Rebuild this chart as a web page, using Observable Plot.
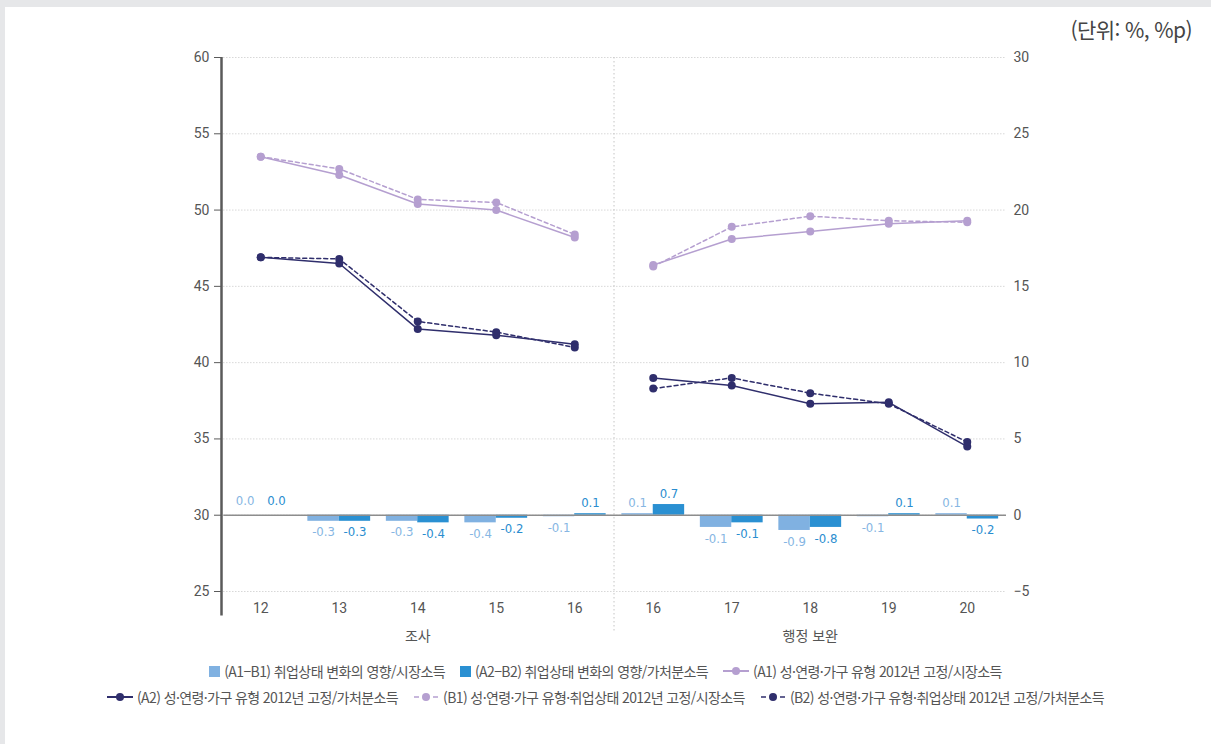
<!DOCTYPE html>
<html lang="ko">
<head>
<meta charset="utf-8">
<script src="https://cdn.jsdelivr.net/npm/d3@7"></script>
<script src="https://cdn.jsdelivr.net/npm/@observablehq/plot@0.6"></script>
<style>
  html, body { margin: 0; padding: 0; background: #e6e7e9; }
  #wrap { position: relative; width: 1211px; height: 744px; overflow: hidden; }
  #panel { position: absolute; left: 5px; top: 7px; width: 1206px; height: 737px; background: #fff; }
  #chart { position: absolute; left: 0; top: 0; }
  #unit { position: absolute; right: 19px; top: 14px; font: 21px "Noto Sans CJK KR", "Noto Sans", sans-serif; color: #444; letter-spacing: -0.6px; }
  .legend { position: absolute; left: 0; width: 1211px; display: flex; justify-content: center; gap: 15px;
            font: 14px "Noto Sans CJK KR", "Noto Sans", sans-serif; color: #555; letter-spacing: -0.6px; white-space: nowrap; }
  .legend .item { display: flex; align-items: center; gap: 4px; }
  .legend .sw { width: 11px; height: 11px; display: inline-block; }
</style>
</head>
<body>
<div id="wrap">
  <div id="panel"></div>
  <div id="chart"></div>
  <div id="unit">(단위: %, %p)</div>
  <div class="legend" id="leg1" style="top:661px"></div>
  <div class="legend" id="leg2" style="top:687px"></div>
</div>
<script>
// ---- data ----
const periods = ["12", "13", "14", "15", "16", "16", "17", "18", "19", "20"];
const groupNames = ["조사", "행정 보완"];
const groupOf = [0, 0, 0, 0, 0, 1, 1, 1, 1, 1];

const seriesA1 = [53.5, 52.3, 50.4, 50.0, 48.2, 46.4, 48.1, 48.6, 49.1, 49.3];
const seriesB1 = [53.5, 52.7, 50.7, 50.5, 48.4, 46.3, 48.9, 49.6, 49.3, 49.2];
const seriesA2 = [46.9, 46.5, 42.2, 41.8, 41.2, 39.0, 38.5, 37.3, 37.4, 34.5];
const seriesB2 = [46.9, 46.8, 42.7, 42.0, 41.0, 38.3, 39.0, 38.0, 37.3, 34.8];

const diffMarket = [0.0, -0.4, -0.4, -0.5, -0.1, 0.1, -0.8, -1.0, -0.1, 0.1];
const diffDisposable = [0.0, -0.4, -0.5, -0.2, 0.1, 0.7, -0.5, -0.8, 0.1, -0.25];
const labelMarket = ["0.0", "-0.3", "-0.3", "-0.4", "-0.1", "0.1", "-0.1", "-0.9", "-0.1", "0.1"];
const labelDisposable = ["0.0", "-0.3", "-0.4", "-0.2", "0.1", "0.7", "-0.1", "-0.8", "0.1", "-0.2"];

const leftTicks = [25, 30, 35, 40, 45, 50, 55, 60];
const rightOffset = 30; // right axis value = left axis value - 30

const names = {
  dm: "(A1−B1) 취업상태 변화의 영향/시장소득",
  dd: "(A2−B2) 취업상태 변화의 영향/가처분소득",
  a1: "(A1) 성·연령·가구 유형 2012년 고정/시장소득",
  a2: "(A2) 성·연령·가구 유형 2012년 고정/가처분소득",
  b1: "(B1) 성·연령·가구 유형·취업상태 2012년 고정/시장소득",
  b2: "(B2) 성·연령·가구 유형·취업상태 2012년 고정/가처분소득"
};
const colors = { dm: "#80b1e1", dd: "#2a90d2", a1: "#b59fd0", b1: "#b59fd0", a2: "#2f2e6c", b2: "#2f2e6c" };
const labelColors = { dm: "#86b6e3", dd: "#2a8dcf" };

// ---- tidy tables ----
const lineRows = [];
[["a1", seriesA1, false], ["b1", seriesB1, true], ["a2", seriesA2, false], ["b2", seriesB2, true]].forEach(([k, arr, dashed]) => {
  arr.forEach((v, i) => lineRows.push({ key: k, i, v, dashed, z: k + "-" + groupOf[i] }));
});
const solidRows = lineRows.filter(d => !d.dashed);
const dashRows = lineRows.filter(d => d.dashed);

const barRows = [];
diffMarket.forEach((v, i) => barRows.push({ key: "dm", i, v, lab: labelMarket[i], x1: i - 0.4, x2: i, xc: i - 0.2 }));
diffDisposable.forEach((v, i) => barRows.push({ key: "dd", i, v, lab: labelDisposable[i], x1: i, x2: i + 0.4, xc: i + 0.2 }));

const fmtRight = d => { const r = d - rightOffset; return r < 0 ? "−" + Math.abs(r) : String(r); };
const labelFont = "'DejaVu Sans Condensed', Roboto, sans-serif";

const chart = Plot.plot({
  width: 1211,
  height: 660,
  marginLeft: 221,
  marginRight: 205,
  marginTop: 57,
  marginBottom: 69,
  style: { background: "transparent", fontFamily: "Roboto, 'Noto Sans', sans-serif", fontSize: "14px", color: "#555" },
  x: { type: "linear", domain: [-0.5, 9.5] },
  y: { domain: [25, 60] },
  marks: [
    // dotted grid
    Plot.ruleY(leftTicks, { x1: -0.47, x2: 9.5, stroke: "#c4c4c4", strokeDasharray: "1,2", strokeWidth: 1 }),
    // group divider
    Plot.ruleX([4.5], { y1: 60, y2: 22.3, stroke: "#c4c4c4", strokeDasharray: "1.5,2.5", strokeWidth: 1 }),
    // bars (right axis)
    Plot.rectY(barRows, { x1: "x1", x2: "x2", y1: rightOffset, y2: d => d.v + rightOffset, fill: d => colors[d.key] }),
    // zero baseline
    Plot.ruleY([rightOffset], { x1: -0.47, x2: 9.5, stroke: "#8d8d8d", strokeWidth: 1.5 }),
    // bar labels
    Plot.text(barRows.filter(d => d.v === 0), {
      x: "xc", y: d => d.v + rightOffset, text: "lab", dy: -14,
      fill: d => labelColors[d.key], fontSize: 13, fontFamily: labelFont
    }),
    Plot.text(barRows.filter(d => d.v > 0), {
      x: "xc", y: d => d.v + rightOffset, text: "lab", dy: -11,
      fill: d => labelColors[d.key], fontSize: 13, fontFamily: labelFont
    }),
    Plot.text(barRows.filter(d => d.v < 0), {
      x: "xc", y: d => d.v + rightOffset, text: "lab", dy: 11,
      fill: d => labelColors[d.key], fontSize: 13, fontFamily: labelFont
    }),
    // lines
    Plot.line(solidRows, { x: "i", y: "v", z: "z", stroke: d => colors[d.key], strokeWidth: 1.5 }),
    Plot.line(dashRows, { x: "i", y: "v", z: "z", stroke: d => colors[d.key], strokeWidth: 1.5, strokeDasharray: "4,3" }),
    Plot.dot(lineRows, { x: "i", y: "v", r: 4, fill: d => colors[d.key], stroke: "none" }),
    // left axis line
    Plot.ruleX([-0.5], { y1: 60, y2: 23.4, stroke: "#5a5a5a", strokeWidth: 2.5 }),
    // axes
    Plot.axisY({ ticks: leftTicks, tickSize: 7, tickPadding: 5, stroke: "#5a5a5a", fill: "#555", label: null, fontSize: 14 }),
    Plot.axisY({ anchor: "right", ticks: leftTicks, tickFormat: fmtRight, tickSize: 0, tickPadding: 7, fill: "#555", label: null, fontSize: 14 }),
    Plot.axisX({ ticks: d3.range(periods.length), tickFormat: i => periods[i], tickSize: 0, tickPadding: 12, fill: "#555", label: null, fontSize: 14 }),
    Plot.axisX({ ticks: [2, 7], tickFormat: i => groupNames[groupOf[i]], tickSize: 0, tickPadding: 40, fill: "#555", label: null, fontSize: 14, fontFamily: "'Noto Sans CJK KR', sans-serif" })
  ]
});
document.getElementById("chart").appendChild(chart);

// ---- legend ----
function barItem(k) {
  return `<span class="item"><span class="sw" style="background:${colors[k]}"></span>${names[k]}</span>`;
}
function lineItem(k, dashed) {
  const c = colors[k];
  const line = dashed
    ? `<line x1="1" y1="6" x2="6" y2="6" stroke="${c}" stroke-width="1.5"/><line x1="20" y1="6" x2="25" y2="6" stroke="${c}" stroke-width="1.5"/>`
    : `<line x1="0" y1="6" x2="26" y2="6" stroke="${c}" stroke-width="2"/>`;
  return `<span class="item"><svg width="26" height="12">${line}<circle cx="13" cy="6" r="4" fill="${c}"/></svg>${names[k]}</span>`;
}
document.getElementById("leg1").innerHTML = barItem("dm") + barItem("dd") + lineItem("a1", false);
document.getElementById("leg2").innerHTML = lineItem("a2", false) + lineItem("b1", true) + lineItem("b2", true);
</script>
</body>
</html>
